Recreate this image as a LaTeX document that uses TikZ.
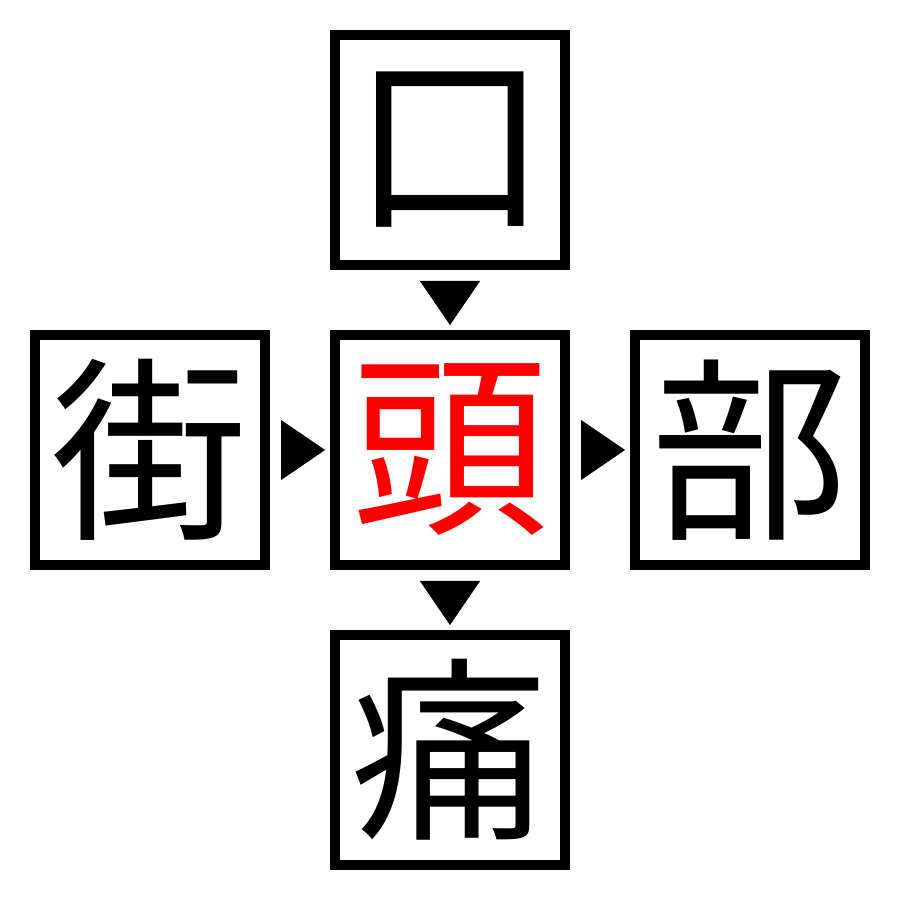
\documentclass[tikz,border=0pt]{standalone}
\usepackage{fontspec}
\newfontfamily\cjk{Noto Sans CJK JP}
\usetikzlibrary{positioning,arrows.meta}

\begin{document}
\begin{tikzpicture}[
        caixa/.style={draw, line width=1mm, outer sep=0.5mm, minimum size=23mm,
            inner sep=0pt, font=\cjk\fontsize{56}{56}\selectfont},
        seta/.style={draw=white, line width=0.1pt, shorten <=1.1mm, shorten >=0.5mm,
            -{Triangle[length=4.4mm,width=6mm,black]}},
        node distance=6mm
    ]
        \useasboundingbox (0,0) rectangle (90mm,90mm);

        \node[caixa, text=red] (tou) at (45mm,45mm) {頭};
        \node[caixa, above=of tou] (kou) {口};
        \node[caixa, left=of tou] (gai) {街};
        \node[caixa, right=of tou] (bu) {部};
        \node[caixa, below=of tou] (tsuu) {痛};

        \draw[seta] (kou.south) -- (tou.north);
        \draw[seta] (gai.east) -- (tou.west);
        \draw[seta] (tou.east) -- (bu.west);
        \draw[seta] (tou.south) -- (tsuu.north);

    \end{tikzpicture}
\end{document}
